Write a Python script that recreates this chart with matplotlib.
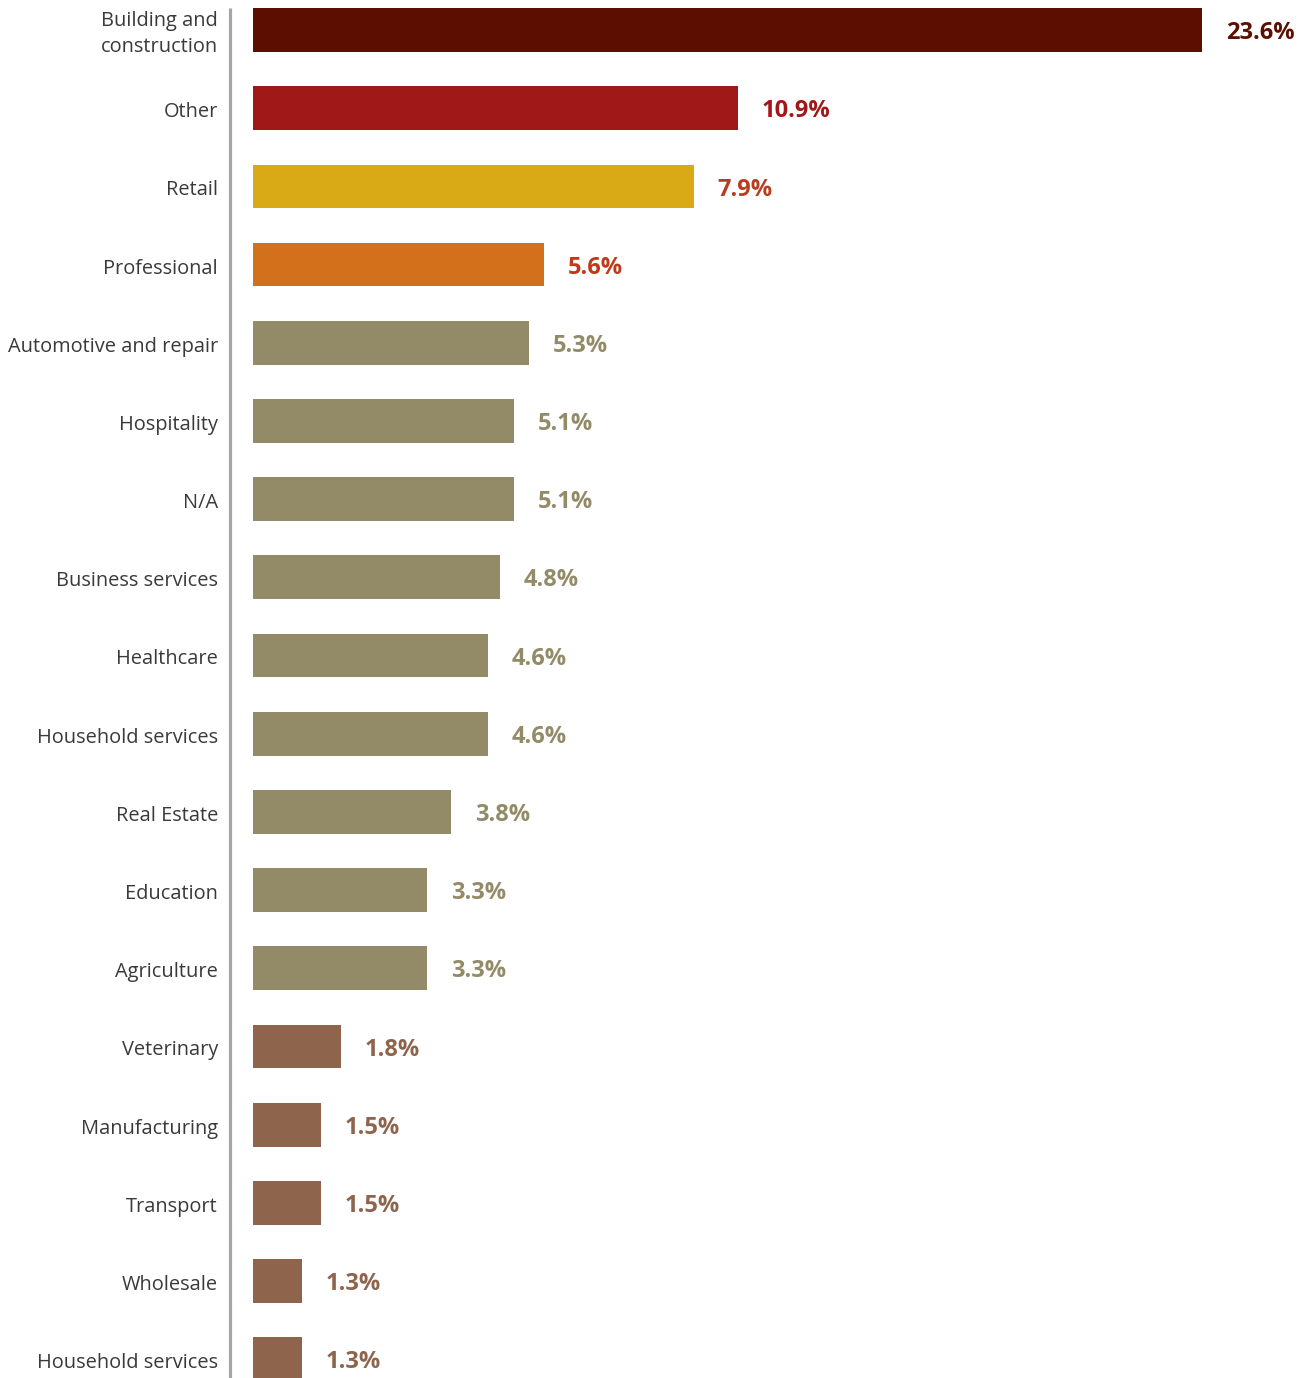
import matplotlib.pyplot as plt
from matplotlib import transforms

# categories, top to bottom
categories = [
    "Building and\nconstruction", "Other", "Retail", "Professional",
    "Automotive and repair", "Hospitality", "N/A", "Business services",
    "Healthcare", "Household services", "Real Estate", "Education",
    "Agriculture", "Veterinary", "Manufacturing", "Transport", "Wholesale",
    "Household services",
]
shares = [23.6, 10.9, 7.9, 5.6, 5.3, 5.1, 5.1, 4.8, 4.6, 4.6, 3.8, 3.3,
          3.3, 1.8, 1.5, 1.5, 1.3, 1.3]
# the drawn bars are not to scale for the top rows; lengths
bar_len = [18.25, 9.33, 8.48, 5.6, 5.31, 5.02, 5.02, 4.75, 4.52, 4.52, 3.81,
           3.35, 3.35, 1.69, 1.31, 1.31, 0.94, 0.94]
groups = ["top", "other", "retail", "prof"] + ["mid"] * 9 + ["low"] * 5

BAR_COLORS = {"top": "#5c0f00", "other": "#a01818", "retail": "#d9a916",
              "prof": "#d2701c", "mid": "#938b68", "low": "#8e644d"}
TEXT_COLORS = {"top": "#5c1000", "other": "#a01818", "retail": "#b83c1e",
               "prof": "#c0391b", "mid": "#938b68", "low": "#8e644d"}

W, H = 1310, 1378
fig = plt.figure(figsize=(W / 100, H / 100), dpi=100)
ax = fig.add_axes([230 / W, 0, 1 - 230 / W, 1])

ypos = list(range(len(categories)))
ax.barh(ypos, bar_len, height=0.56, left=0,
        color=[BAR_COLORS[g] for g in groups])

ax.set_xlim(-23 / 52, (W - 230 - 23) / 52)
ax.set_ylim(17.24, -0.384)
ax.axis("off")

# left rule
ax.plot([-23 / 52, -23 / 52], [-0.28, 17.24], color="#a6a6a6", lw=2.3,
        solid_capstyle="butt", clip_on=False)

lab_tr = transforms.blended_transform_factory(fig.transFigure, ax.transData)
for y, name in zip(ypos, categories):
    ax.text(218 / W, y + 0.05, name, transform=lab_tr, ha="right",
            va="center", multialignment="right", fontsize=14.4,
            color="#3a3a3a", family="Open Sans", linespacing=1.45)

for y, v, L, g in zip(ypos, shares, bar_len, groups):
    ax.annotate(f"{v}%", (L, y + 0.04), xytext=(17, 0),
                textcoords="offset points", ha="left", va="center",
                fontsize=17, fontweight="bold", color=TEXT_COLORS[g],
                family="Open Sans")

fig.savefig("out.png", dpi=100)
